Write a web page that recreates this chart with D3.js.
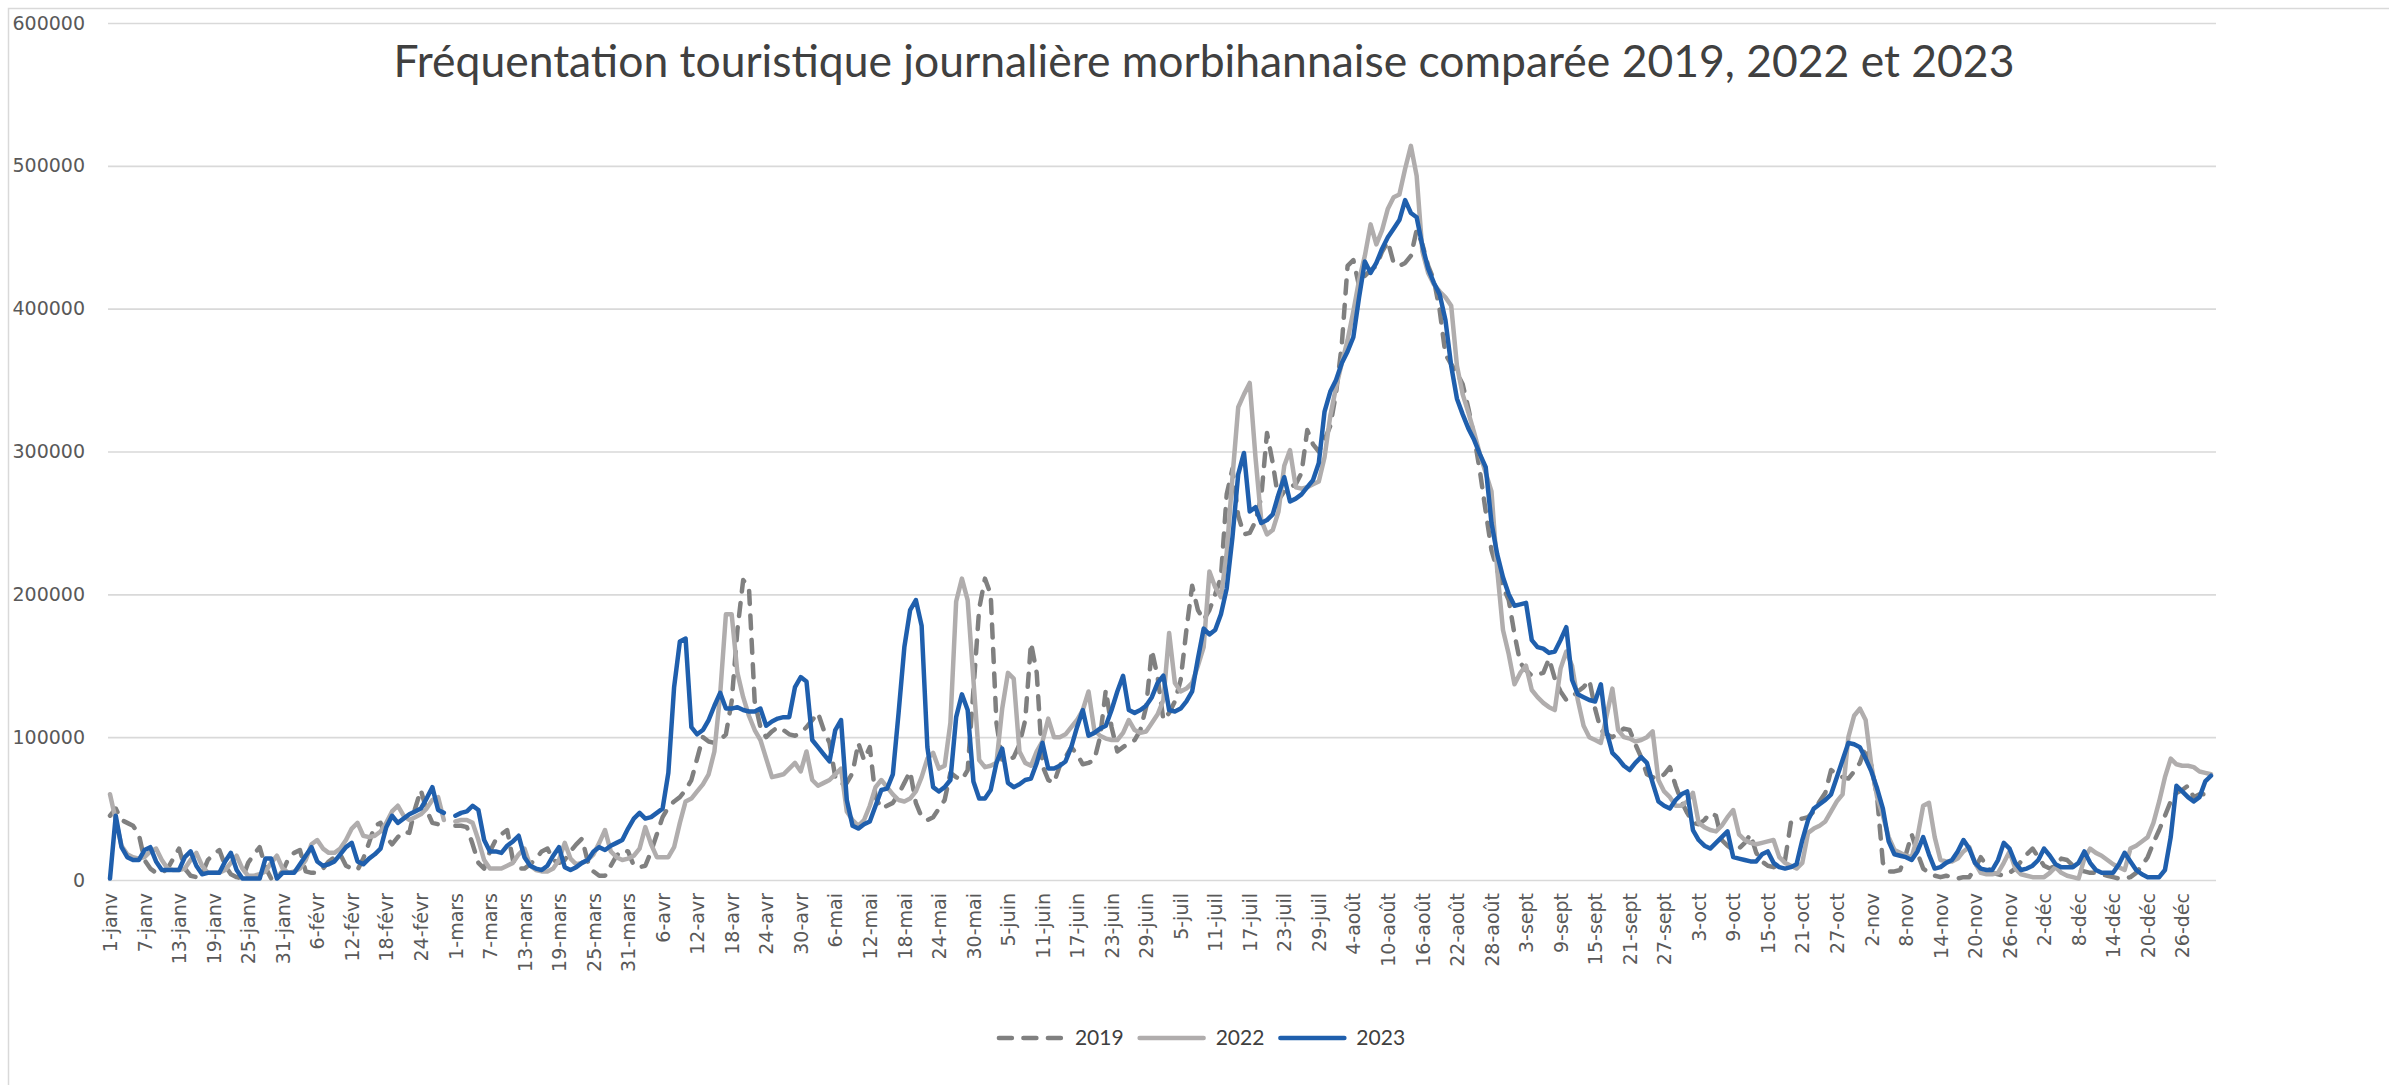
<!DOCTYPE html>
<html lang="fr">
<head>
<meta charset="utf-8">
<script src="https://cdn.jsdelivr.net/npm/d3@7"></script>
<style>
  body { margin: 0; background: #fff; }
  svg { display: block; }
</style>
</head>
<body>
<div id="chart"></div>
<script>
// daily visitors, in thousands. index 0 = 1 janv, axis is a leap year so 29 févr (59) is empty
const UNIT = 1000;

const y2019 = [
  45,50,42,40,38,32,14,8,5,5,
  8,15,22,8,3,2,4,14,18,21,
  10,4,2,1,12,18,23,9,1,2,
  6,15,19,21,6,5,5,8,13,16,
  18,10,8,7,15,26,38,40,30,25,
  30,34,33,50,63,49,40,39,38,null,
  38,38,37,25,12,8,20,28,32,35,
  14,8,8,11,15,20,22,14,12,14,
  20,25,29,13,6,3,3,10,17,21,
  20,10,9,10,20,32,44,51,55,58,
  63,70,85,100,97,96,98,102,125,175,
  210,205,125,107,100,104,107,105,102,101,
  103,107,112,117,105,96,72,67,68,75,
  96,84,93,58,50,52,54,60,68,76,
  54,44,42,44,50,56,75,72,70,77,
  133,190,211,200,110,84,84,86,95,112,
  166,145,80,70,68,80,86,93,88,81,
  82,84,100,133,107,90,93,96,98,105,
  121,161,142,112,117,125,140,175,206,189,
  182,189,200,212,270,288,255,242,243,251,
  268,313,292,266,272,275,277,285,315,305,
  300,308,318,341,375,430,434,416,423,427,
  430,440,447,432,430,432,437,455,445,430,
  420,399,368,361,355,347,330,310,286,258,
  231,217,205,196,172,152,147,143,144,145,
  155,141,132,126,128,132,135,140,120,105,
  102,100,103,106,105,95,86,74,72,71,
  74,79,66,55,47,40,39,42,47,45,
  28,24,21,22,26,32,19,13,10,9,
  11,14,40,42,43,44,48,55,61,77,
  74,72,71,76,82,93,80,58,12,6,
  6,7,18,32,19,8,5,3,2,3,
  2,1,2,2,8,16,10,5,4,3,
  5,8,13,18,22,16,10,8,10,15,
  14,10,7,6,5,5,4,3,2,1,
  1,2,5,10,16,26,35,45,55,61,
  63,66,58,60,60,57
];

const y2022 = [
  60,42,24,18,16,15,16,20,22,14,
  8,7,7,8,14,19,10,5,5,5,
  7,12,17,8,3,3,4,6,12,17,
  8,5,6,8,14,25,28,22,19,19,
  22,28,36,40,31,30,31,34,40,48,
  52,45,42,44,46,50,56,58,42,null,
  41,42,42,40,28,14,8,8,8,10,
  12,18,22,10,7,6,6,8,14,26,
  15,11,12,14,18,26,35,20,16,14,
  15,17,22,37,25,16,16,16,23,40,
  55,57,62,67,74,90,130,186,186,145,
  128,115,105,98,85,72,73,74,78,82,
  76,90,70,66,68,70,74,78,48,42,
  38,42,52,65,70,65,60,56,55,57,
  62,72,85,89,78,80,110,195,211,196,
  140,84,79,80,82,120,145,141,90,82,
  80,90,97,113,100,100,102,107,112,119,
  132,105,101,99,98,98,103,112,105,103,
  104,110,116,126,173,138,132,134,138,150,
  163,216,205,198,229,282,331,340,348,296,
  252,242,245,258,290,301,275,274,275,277,
  279,296,325,345,362,378,398,420,437,459,
  445,455,470,478,480,498,514,493,440,425,
  417,412,408,402,360,340,327,313,298,285,
  272,217,175,158,137,145,150,133,128,124,
  121,119,148,160,150,126,108,100,98,96,
  115,134,105,100,99,97,98,100,104,70,
  62,58,52,52,55,61,40,37,35,34,
  38,44,49,32,28,26,25,26,27,28,
  16,12,10,8,12,33,36,38,41,48,
  55,60,100,115,120,112,80,58,45,30,
  21,19,17,16,30,52,54,30,14,13,
  13,15,20,23,12,5,4,4,5,12,
  20,8,4,3,2,2,2,5,9,5,
  3,2,1,15,22,19,17,14,11,9,
  7,22,24,27,30,40,55,72,85,81,
  80,80,79,76,75,74
];

const y2023 = [
  1,45,23,16,14,14,21,23,13,7,
  7,7,7,16,20,10,4,5,5,5,
  13,19,7,1,1,1,1,15,15,1,
  5,5,5,11,17,23,13,10,11,13,
  18,23,26,13,11,15,18,22,37,45,
  40,43,46,48,50,57,65,49,47,null,
  45,47,48,52,49,28,20,20,19,24,
  27,31,16,10,8,7,10,17,23,9,
  7,9,12,14,20,23,21,24,26,28,
  36,43,47,43,44,47,50,75,135,167,
  169,107,102,105,112,122,131,120,120,121,
  119,118,118,120,108,111,113,114,114,135,
  142,139,98,93,88,83,105,112,56,38,
  36,39,41,52,63,64,74,117,163,189,
  196,178,93,65,62,65,70,114,130,119,
  69,57,57,63,82,92,68,65,67,70,
  71,82,96,78,78,80,83,93,107,119,
  101,103,106,108,119,132,143,119,117,119,
  122,128,138,143,119,118,120,125,132,155,
  176,172,175,186,204,240,284,299,258,261,
  250,252,256,270,282,265,267,270,275,280,
  292,328,342,350,362,370,380,408,433,425,
  432,442,450,456,462,476,467,464,444,428,
  418,410,392,360,337,326,316,308,298,289,
  250,228,212,200,192,193,194,168,163,162,
  159,160,168,177,140,130,128,126,125,137,
  104,89,85,80,77,82,86,82,68,55,
  52,50,56,60,62,35,28,24,22,26,
  30,34,16,15,14,13,13,18,20,12,
  9,8,9,11,28,42,50,53,56,60,
  72,84,96,95,93,85,76,64,50,27,
  18,17,16,14,20,30,18,8,9,12,
  14,20,28,22,12,8,7,7,14,26,
  22,12,7,8,10,14,22,17,11,9,
  9,9,12,20,12,7,5,5,5,11,
  19,13,7,4,2,2,2,7,30,66,
  62,58,55,58,69,73
];

const seriesNames = ["2019", "2022", "2023"];
const yTicks = [0, 100000, 200000, 300000, 400000, 500000, 600000];

// one label every 6 days
const tickLabels = [
  "1-janv","7-janv","13-janv","19-janv","25-janv","31-janv",
  "6-févr","12-févr","18-févr","24-févr",
  "1-mars","7-mars","13-mars","19-mars","25-mars","31-mars",
  "6-avr","12-avr","18-avr","24-avr","30-avr",
  "6-mai","12-mai","18-mai","24-mai","30-mai",
  "5-juin","11-juin","17-juin","23-juin","29-juin",
  "5-juil","11-juil","17-juil","23-juil","29-juil",
  "4-août","10-août","16-août","22-août","28-août",
  "3-sept","9-sept","15-sept","21-sept","27-sept",
  "3-oct","9-oct","15-oct","21-oct","27-oct",
  "2-nov","8-nov","14-nov","20-nov","26-nov",
  "2-déc","8-déc","14-déc","20-déc","26-déc"
];

const title = "Fréquentation touristique journalière morbihannaise comparée 2019, 2022 et 2023";

// styles
const styles = {
  "2019": { color: "#808080", dash: "13 11.5" },
  "2022": { color: "#b0adad", dash: null },
  "2023": { color: "#1f5fad", dash: null }
};

const W = 2389, H = 1085;
const plot = { left: 108, right: 2216, top: 23, bottom: 880 };

const svg = d3.select("#chart").append("svg")
  .attr("width", W)
  .attr("height", H);

svg.append("rect")
  .attr("width", W).attr("height", H)
  .attr("fill", "#fff");

// chart border (cut off at right and bottom, like the screenshot)
svg.append("rect")
  .attr("x", 8.5).attr("y", 8.5)
  .attr("width", W + 20).attr("height", H + 20)
  .attr("fill", "none")
  .attr("stroke", "#d9d9d9")
  .attr("stroke-width", 1.5);

const x = d3.scaleLinear()
  .domain([0, 365])
  .range([110, 2211]);

const y = d3.scaleLinear()
  .domain([0, 600000])
  .range([plot.bottom, plot.top]);

// Y axis + gridlines
const yAxis = svg.append("g")
  .attr("transform", `translate(${plot.left},0)`)
  .call(d3.axisLeft(y)
    .tickValues(yTicks)
    .tickFormat(d3.format("d"))
    .tickSize(-(plot.right - plot.left))
    .tickPadding(23));
yAxis.select(".domain").remove();
yAxis.selectAll("line")
  .attr("stroke", "#d9d9d9")
  .attr("stroke-width", 1.6);
yAxis.selectAll("text")
  .attr("fill", "#595959")
  .style("font-family", "DejaVu Sans")
  .style("font-size", "19px");

// X axis labels, rotated
const xAxis = svg.append("g")
  .attr("transform", `translate(0,${plot.bottom})`)
  .call(d3.axisBottom(x)
    .tickValues(tickLabels.map((d, i) => i * 6))
    .tickFormat((d, i) => tickLabels[i])
    .tickSize(0));
xAxis.select(".domain").remove();
xAxis.selectAll("text")
  .attr("transform", "rotate(-90)")
  .attr("x", -13)
  .attr("y", 0)
  .attr("dy", "0.35em")
  .style("text-anchor", "end")
  .attr("fill", "#595959")
  .style("font-family", "DejaVu Sans")
  .style("font-size", "19px");

// lines
const series = seriesNames.map((name, k) => ({
  name,
  values: [y2019, y2022, y2023][k]
}));

const line = d3.line()
  .defined(d => d != null)
  .x((d, i) => x(i))
  .y(d => y(d * UNIT));

svg.append("g")
  .selectAll("path")
  .data(series)
  .join("path")
  .attr("d", d => line(d.values))
  .attr("fill", "none")
  .attr("stroke", d => styles[d.name].color)
  .attr("stroke-width", 4.5)
  .attr("stroke-linejoin", "round")
  .attr("stroke-linecap", "round")
  .attr("stroke-dasharray", d => styles[d.name].dash);

// title, sized to the reference width
const t = svg.append("text")
  .attr("x", 1204)
  .attr("y", 77)
  .attr("text-anchor", "middle")
  .attr("fill", "#404040")
  .style("font-family", "Lato")
  .style("font-size", "40px")
  .text(title);
const tw = t.node().getComputedTextLength();
t.style("font-size", (40 * 1621 / tw) + "px");

// legend
const legend = svg.append("g");
const lineLen = 68, gapText = 10, gapItem = 14;
let cx = 0;
const items = [];
series.forEach(s => {
  const g = legend.append("g");
  g.append("line")
    .attr("x1", 2).attr("x2", lineLen - 2)
    .attr("y1", 0).attr("y2", 0)
    .attr("stroke", styles[s.name].color)
    .attr("stroke-width", 4.5)
    .attr("stroke-linecap", "round")
    .attr("stroke-dasharray", styles[s.name].dash);
  const txt = g.append("text")
    .attr("x", lineLen + gapText)
    .attr("y", 0)
    .attr("dy", "0.35em")
    .attr("fill", "#404040")
    .style("font-family", "Lato")
    .style("font-size", "21px")
    .text(s.name);
  const w = lineLen + gapText + txt.node().getComputedTextLength();
  items.push({ g, w });
});
const total = d3.sum(items, d => d.w) + gapItem * (items.length - 1);
cx = 1201 - total / 2;
items.forEach(it => {
  it.g.attr("transform", `translate(${cx},1038)`);
  cx += it.w + gapItem;
});
</script>
</body>
</html>
